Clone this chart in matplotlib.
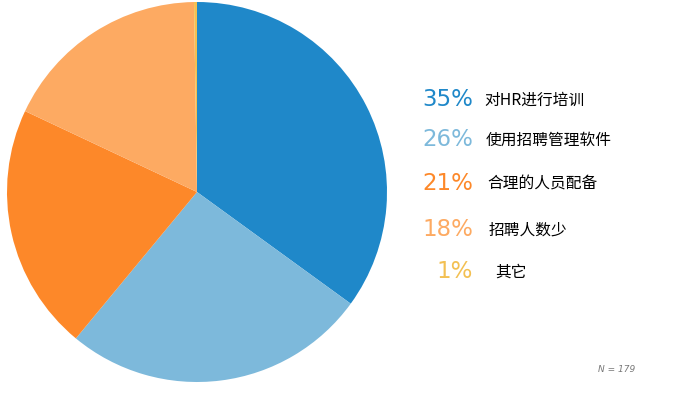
import matplotlib.pyplot as plt

plt.rcParams['font.family'] = ['Noto Sans CJK SC', 'DejaVu Sans']

labels = ['对HR进行培训', '使用招聘管理软件', '合理的人员配备', '招聘人数少', '其它']
values = [35, 26, 21, 18, 1]
# wedge sizes as drawn (the "其它" wedge is visibly thinner than 1%)
sizes = [35, 26, 21, 17.75, 0.25]
colors = ['#1f88c9', '#7db9db', '#fd8829', '#fdaa62', '#f3c052']
note = 'N = 179'

fig = plt.figure(figsize=(6.75, 4.03), dpi=100)
W, H = 675, 403
cx, cy, r = 197, 192, 190
ax = fig.add_axes([(cx - r) / W, (H - cy - r) / H, 2 * r / W, 2 * r / H])
ax.pie(sizes, colors=colors, startangle=90, counterclock=False,
       wedgeprops=dict(linewidth=0))
ax.set_xlim(-1, 1)
ax.set_ylim(-1, 1)
ax.set_aspect('equal')

ys = [100, 140, 184, 230, 272]
lx = [484, 486, 487, 489, 495]
for lab, v, c, y, x in zip(labels, values, colors, ys, lx):
    fig.text(473 / W, 1 - y / H, f'{v}%', color=c, fontsize=16.5,
             family=['DejaVu Sans'], ha='right', va='center')
    fig.text(x / W, 1 - y / H, lab, color='black', fontsize=11.3,
             ha='left', va='center')

fig.text(617 / W, 1 - 370 / H, note, color='#777777', fontsize=6.5,
         style='italic', family=['DejaVu Sans'], ha='center', va='center')

fig.savefig('out.png', dpi=100)
